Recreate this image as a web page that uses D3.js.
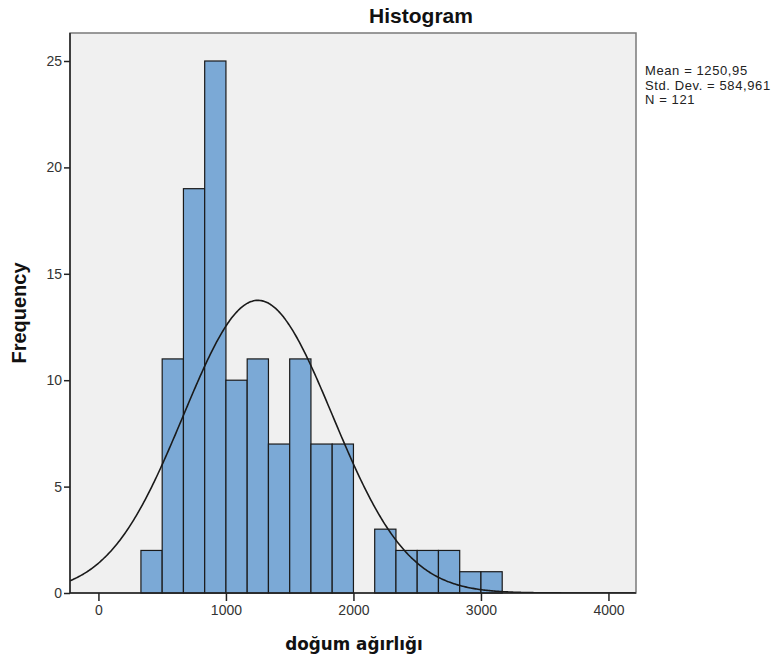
<!DOCTYPE html>
<html><head><meta charset="utf-8">
<script src="https://cdn.jsdelivr.net/npm/d3@7"></script>
<style>body{margin:0;background:#fff}svg{display:block}</style>
</head><body>
<svg id="c" width="777" height="664"></svg>
<script>
// Data
const binStarts = [333.33,500,666.67,833.33,1000,1166.67,1333.33,1500,1666.67,1833.33,2000,2166.67,2333.33,2500,2666.67,2833.33,3000];
const counts    = [2,11,19,25,10,11,7,11,7,7,0,3,2,2,2,1,1];
const binWidth = 166.67;
const xTicks = [0,1000,2000,3000,4000];
const yTicks = [0,5,10,15,20,25];
const statsLines = ["Mean = 1250,95","Std. Dev. = 584,961","N = 121"];
const mean = 1250.95, sd = 584.961, N = 121;

const svg = d3.select("#c");
const L = 70, R = 636, T = 33, B = 593;
const x = d3.scaleLinear().domain([-223, 4216]).range([L, R]);
const y = d3.scaleLinear().domain([0, 25]).range([B, 61]);

// plot background & frame
svg.append("rect").attr("x",L).attr("y",T).attr("width",R-L).attr("height",B-T)
  .attr("fill","#f0f0f0").attr("stroke","#7a7a7a").attr("stroke-width",1.5);

svg.append("defs").append("clipPath").attr("id","clip")
  .append("rect").attr("x",L).attr("y",T).attr("width",R-L).attr("height",B-T);

// bars
const bins = binStarts.map((s,i)=>({s, c:counts[i]})).filter(d=>d.c>0);
svg.append("g").selectAll("rect").data(bins).join("rect")
  .attr("x",d=>x(d.s)).attr("width",d=>x(d.s+binWidth)-x(d.s))
  .attr("y",d=>y(d.c)).attr("height",d=>y(0)-y(d.c))
  .attr("fill","#7ba9d6").attr("stroke","#1a1a1a").attr("stroke-width",1.2);

// normal curve
const pts = d3.range(-223, 4217, 10).map(v=>[v, N*binWidth/(sd*Math.sqrt(2*Math.PI))*Math.exp(-0.5*((v-mean)/sd)**2)]);
svg.append("path").datum(pts).attr("clip-path","url(#clip)")
  .attr("d", d3.line().x(d=>x(d[0])).y(d=>y(d[1])).curve(d3.curveBasis))
  .attr("fill","none").attr("stroke","#1a1a1a").attr("stroke-width",1.6);

// axes
const xa = svg.append("g").attr("transform",`translate(0,${B})`)
  .call(d3.axisBottom(x).tickValues(xTicks).tickSize(8).tickPadding(4).tickFormat(d3.format("d")));
const ya = svg.append("g").attr("transform",`translate(${L},0)`)
  .call(d3.axisLeft(y).tickValues(yTicks).tickSize(6).tickPadding(2));
[xa,ya].forEach(a=>{
  a.select(".domain").attr("stroke","#222").attr("stroke-width",1.5);
  a.selectAll(".tick line").attr("stroke","#222").attr("stroke-width",1.5);
  a.selectAll(".tick text").attr("fill","#333").attr("font-family","Arial, 'Liberation Sans', sans-serif").attr("font-size",14);
});
xa.select(".domain").attr("d",`M${L},0H${R}`);
ya.select(".domain").attr("d",`M0,${T}V${B}`);

// title
svg.append("text").attr("x",421).attr("y",23).attr("text-anchor","middle")
  .attr("font-family","Arial, 'Liberation Sans', sans-serif").attr("font-weight","bold").attr("font-size",21)
  .attr("fill","#111").text("Histogram");

// axis titles
svg.append("text").attr("transform","translate(26,313) rotate(-90)").attr("text-anchor","middle")
  .attr("font-family","Arial, 'Liberation Sans', sans-serif").attr("font-weight","bold").attr("font-size",20)
  .attr("fill","#111").text("Frequency");
svg.append("text").attr("x",354).attr("y",650).attr("text-anchor","middle")
  .attr("font-family","'DejaVu Sans', Verdana, sans-serif").attr("font-weight","bold").attr("font-size",16.8)
  .attr("fill","#111").text("doğum ağırlığı");

// stats
svg.append("g").selectAll("text").data(statsLines).join("text")
  .attr("x",645).attr("y",(d,i)=>75+i*14.5)
  .attr("font-family","Arial, 'Liberation Sans', sans-serif").attr("font-size",13).attr("letter-spacing",0.6).attr("fill","#222")
  .text(d=>d);
</script>
</body></html>
